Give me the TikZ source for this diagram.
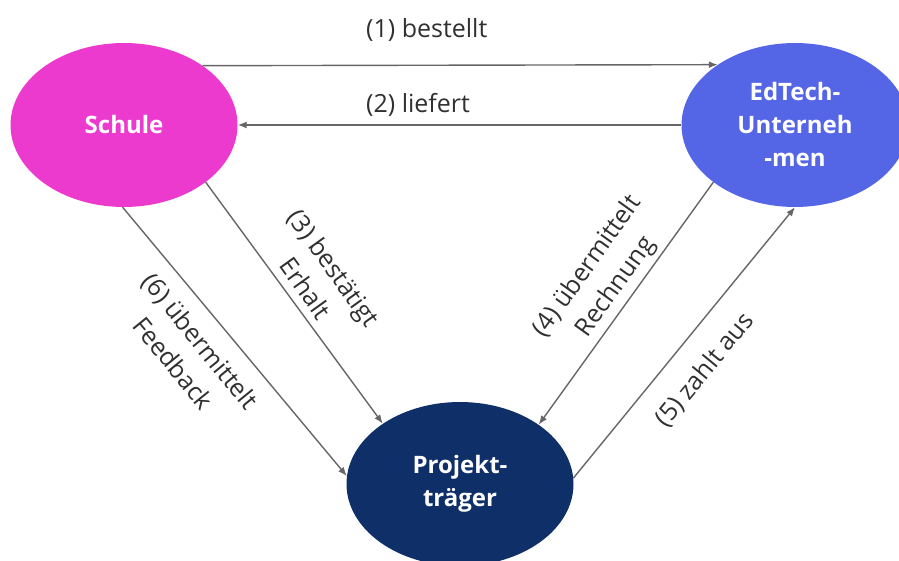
\documentclass[tikz,border=0pt]{standalone}
\usepackage{fontspec}
\setmainfont{Open Sans}
\usetikzlibrary{shapes.geometric,arrows.meta}
\definecolor{schulecol}{HTML}{EC3ACE}
\definecolor{edtechcol}{HTML}{5465E6}
\definecolor{projcol}{HTML}{0F2F69}
\definecolor{arrowcol}{HTML}{666666}
\definecolor{textcol}{HTML}{303030}
\tikzset{
  actor/.style={ellipse, minimum width=227, minimum height=164, inner sep=0pt,
    draw=none, text=white, align=center,
    font=\fontsize{24}{33}\selectfont\bfseries},
  flow/.style={draw=arrowcol, line width=1.4pt, -{Latex[length=9pt,width=7pt]}},
  lbl/.style={text=textcol, align=center, inner sep=0pt,
    font=\fontsize{25}{35}\selectfont}
}
\begin{document}
\begin{tikzpicture}[x=1pt,y=-1pt]
\useasboundingbox (0,0) rectangle (899,561);
\node[actor, fill=schulecol] (schule) at (124,125) {Schule};
\node[actor, fill=edtechcol] (edtech) at (795,125) {EdTech-\\Unterneh\\-men};
\node[actor, fill=projcol] (projekt) at (460,484) {Projekt-\\träger};

\draw[flow] (schule.37.8) -- (edtech.142.2);
\draw[flow] (edtech.west) -- (schule.east);
\draw[flow] (schule.-35.2) -- (projekt.142.9);
\draw[flow] (edtech.215.3) -- (projekt.37.1);
\draw[flow] (projekt.3) -- (edtech.south);
\draw[flow] (schule.-91) -- (projekt.176);

\node[lbl, anchor=west] (l1) at (366,30) {(1) bestellt};
\node[lbl, anchor=west] (l2) at (366,105) {(2) liefert};
\node[lbl, rotate=-54.4] (l3) at (320,278) {(3) bestätigt\\Erhalt};
\node[lbl, rotate=54.4] (l4) at (602,277) {(4) übermittelt\\Rechnung};
\node[lbl, rotate=50.6] (l5) at (705,370) {(5) zahlt aus};
\node[lbl, rotate=-50.8] (l6) at (187,352) {(6) übermittelt\\Feedback};
\end{tikzpicture}
\end{document}
